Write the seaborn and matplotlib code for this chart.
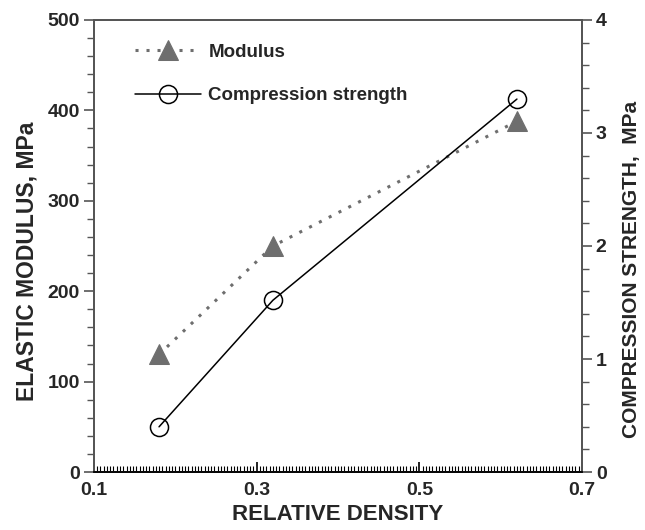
import matplotlib
matplotlib.use("Agg")
import matplotlib.pyplot as plt
import seaborn as sns
import pandas as pd
from matplotlib.ticker import MultipleLocator, FixedLocator, FormatStrFormatter

# Relative density of the foams and the two measured properties
relative_density = [0.18, 0.32, 0.62]
elastic_modulus = [130, 250, 388]          # MPa
compression_strength = [0.40, 1.52, 3.30]  # MPa
x_ticks = [0.1, 0.3, 0.5, 0.7]

sns.set_style("ticks")
plt.rcParams["font.family"] = ["Liberation Sans", "DejaVu Sans"]
plt.rcParams["font.weight"] = "bold"

df = pd.DataFrame({
    "density": relative_density,
    "modulus": elastic_modulus,
    "strength": compression_strength,
})

fig = plt.figure(figsize=(6.45, 5.30), dpi=100)
ax = fig.add_axes([0.1457, 0.1094, 0.7566, 0.8529])
ax2 = ax.twinx()

grey = "#6e6e6e"
sns.lineplot(data=df, x="density", y="modulus", ax=ax, color=grey,
             linestyle=(0, (1.0, 2.6)), linewidth=2.2, marker="^",
             markersize=14, markeredgecolor=grey, markerfacecolor=grey,
             label="Modulus", legend=False)
sns.lineplot(data=df, x="density", y="strength", ax=ax2, color="black",
             linewidth=1.1, marker="o", markersize=13, markerfacecolor="none",
             markeredgecolor="black", markeredgewidth=1.1,
             label="Compression strength", legend=False)

ax.set_xlim(0.1, 0.7)
ax.set_ylim(0, 500)
ax2.set_ylim(0, 4)

ax.xaxis.set_major_locator(FixedLocator(x_ticks))
ax.xaxis.set_minor_locator(MultipleLocator(0.004))
ax.yaxis.set_major_locator(MultipleLocator(100))
ax.yaxis.set_minor_locator(MultipleLocator(20))
ax2.yaxis.set_major_locator(MultipleLocator(1))
ax2.yaxis.set_minor_locator(MultipleLocator(0.2))
ax.xaxis.set_major_formatter(FormatStrFormatter("%.1f"))

spine_col = "#555555"
for a in (ax, ax2):
    for s in a.spines.values():
        s.set_color(spine_col)
        s.set_linewidth(1.3)
        s.set_visible(True)
ax2.spines["bottom"].set_color("black")

ax.tick_params(axis="x", which="major", direction="in", length=7, width=1.2,
               color="black", labelsize=14, pad=7, top=False)
ax.tick_params(axis="x", which="minor", direction="in", length=4, width=0.8,
               color="black", top=False)
ax.tick_params(axis="y", which="major", direction="out", length=7, width=1.2,
               color=spine_col, labelsize=14, right=False, pad=3)
ax.tick_params(axis="y", which="minor", direction="out", length=5, width=1.0,
               color=spine_col, right=False)
ax2.tick_params(axis="y", which="major", direction="out", length=7, width=1.2,
                color=spine_col, labelsize=14, pad=3)
ax2.tick_params(axis="y", which="minor", direction="out", length=5, width=1.0,
                color=spine_col)

for lab in ax.get_xticklabels() + ax.get_yticklabels() + ax2.get_yticklabels():
    lab.set_fontweight("bold")

ax.set_xlabel("RELATIVE DENSITY", fontsize=16, fontweight="bold", labelpad=4)
ax.set_ylabel("ELASTIC MODULUS, MPa", fontsize=16.5, fontweight="bold")
ax2.set_ylabel("COMPRESSION STRENGTH,  MPa", fontsize=15, fontweight="bold")
ax.yaxis.set_label_coords(-0.113, 0.467)
ax2.yaxis.set_label_coords(1.082, 0.449)

h1, l1 = ax.get_legend_handles_labels()
h2, l2 = ax2.get_legend_handles_labels()
leg = ax2.legend(h1 + h2, l1 + l2, loc="upper left",
                 bbox_to_anchor=(0.05, 0.985), frameon=False,
                 prop={"size": 13.5, "weight": "bold"}, handlelength=3.5,
                 labelspacing=1.4, handletextpad=0.4)

fig.savefig("out.png", dpi=100)
